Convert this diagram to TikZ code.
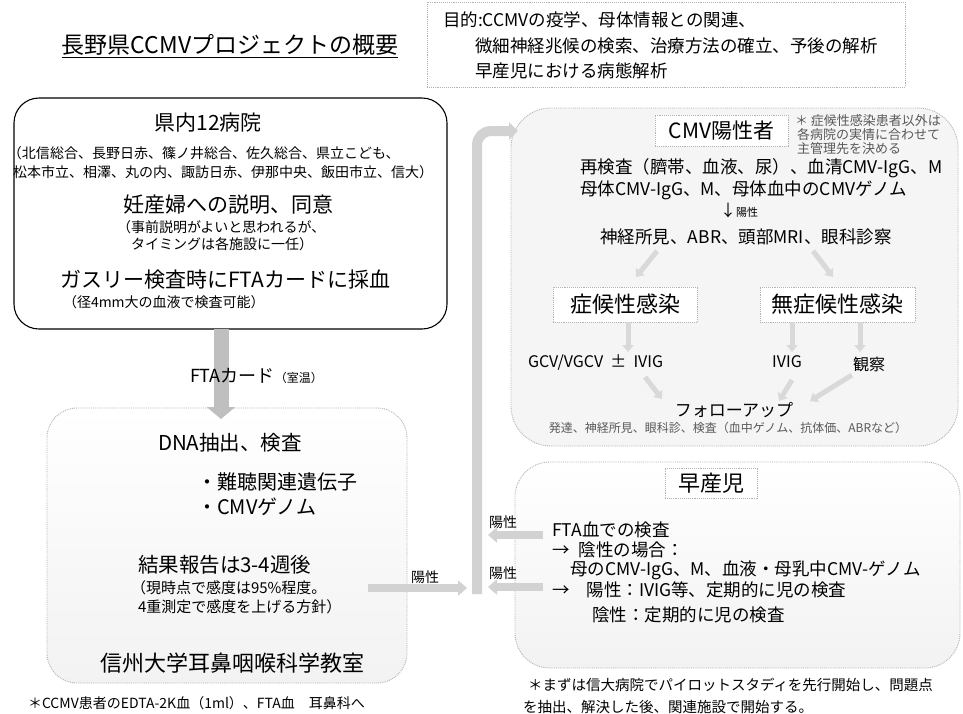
\documentclass[tikz,border=0pt]{standalone}
\usepackage{fontspec}
\setmainfont{Noto Sans CJK JP}
\usetikzlibrary{arrows.meta}
\begin{document}
\begin{tikzpicture}[x=1pt,y=-1pt,
  every node/.style={inner sep=0pt,outer sep=0pt},
  txt/.style={font=\fontsize{#1}{#1}\selectfont},
  bigbox/.style={draw=gray!60,densely dotted,line width=0.9pt,rounded corners=#1},
  inbox/.style={draw=gray!60,densely dotted,line width=0.9pt,fill=white},
  bigdown/.style={draw=gray!50,line width=15pt,-{Triangle[length=12pt,width=28pt]}},
  harrow/.style={draw=gray!35,line width=8pt,-{Triangle[length=9pt,width=15pt]}},
  smallarr/.style={draw=gray!30,line width=5pt,-{Triangle[length=7pt,width=11pt]}},
  bar/.style={draw=gray!35,line width=10pt,rounded corners=14pt,-{Triangle[length=9pt,width=17pt]}}]
\useasboundingbox (0,0) rectangle (963,713);
\fill[white] (0,0) rectangle (963,713);

% title
\node[txt=23] (title) at (230,45) {長野県CCMVプロジェクトの概要};
\draw[line width=1pt] ([yshift=-4pt]title.base west) -- ([yshift=-4pt]title.base east);

% goal box
\node[draw=gray!60,densely dotted,line width=0.9pt,minimum width=478pt,minimum height=85pt] (goal) at (666,44.5) {};
\node[txt=17.5,anchor=west] (g1) at (443,20) {目的:CCMVの疫学、母体情報との関連、};
\node[txt=17.5,anchor=west] (g2) at (475,46) {微細神経兆候の検索、治療方法の確立、予後の解析};
\node[txt=17.5,anchor=west] (g3) at (475,71) {早産児における病態解析};

% big boxes
\node[draw=black,line width=1.1pt,rounded corners=25pt,fill=white,minimum width=433pt,minimum height=231pt] (box1) at (230.5,213.5) {};
\node[bigbox=30pt,top color=white,bottom color=gray!10,minimum width=360pt,minimum height=275pt] (box2) at (227,545.5) {};
\node[bigbox=40pt,fill=gray!8,minimum width=447pt,minimum height=338pt] (cmv) at (734.5,277) {};
\node[bigbox=35pt,top color=white,bottom color=gray!10,minimum width=445pt,minimum height=206pt] (pre) at (737.5,565) {};

% connectors
\coordinate (d1) at (221,329);
\coordinate (d2) at (221,419);
\draw[bigdown] (d1) -- (d2);
\coordinate (h1) at (368,588);
\coordinate (h2) at (467,588);
\draw[harrow] (h1) -- (h2);
\coordinate (barbot) at (477,594);
\coordinate (barturn) at (477,131);
\coordinate (cmvin) at (518,131);
\draw[bar] (barbot) -- (barturn) -- (cmvin);
\coordinate (pa1) at (543,535);
\coordinate (pb1) at (488,535);
\coordinate (pa2) at (543,587);
\coordinate (pb2) at (488,587);
\draw[harrow] (pa1) -- (pb1);
\draw[harrow] (pa2) -- (pb2);

% box1 text
\node[txt=21] (b1a) at (208,123) {県内12病院};
\node[txt=14,anchor=west] (b1b) at (8,153) {（北信総合、長野日赤、篠ノ井総合、佐久総合、県立こども、};
\node[txt=14,anchor=west] (b1c) at (13,172) {松本市立、相澤、丸の内、諏訪日赤、伊那中央、飯田市立、信大）};
\node[txt=21] (b1d) at (228,205) {妊産婦への説明、同意};
\node[txt=14,anchor=west] (b1e) at (117,227) {（事前説明がよいと思われるが、};
\node[txt=14,anchor=west] (b1f) at (131,244) {タイミングは各施設に一任）};
\node[txt=21] (b1g) at (225,280) {ガスリー検査時にFTAカードに採血};
\node[txt=14,anchor=west] (b1h) at (63,302) {（径4mm大の血液で検査可能）};

\node[txt=18,anchor=west] (fta) at (190,376) {FTAカード{\fontsize{12}{12}\selectfont （室温）}};

% box2 text
\node[txt=20.5] (b2a) at (230,443) {DNA抽出、検査};
\node[txt=20,anchor=west] (b2b) at (197,482) {・難聴関連遺伝子};
\node[txt=20,anchor=west] (b2c) at (197,507) {・CMVゲノム};
\node[txt=20.5,anchor=west] (b2d) at (138,565) {結果報告は3-4週後};
\node[txt=15,anchor=west] (b2e) at (131,588) {（現時点で感度は95\%程度。};
\node[txt=15,anchor=west] (b2f) at (138,607) {4重測定で感度を上げる方針）};
\node[txt=22] (b2g) at (232,663) {信州大学耳鼻咽喉科学教室};
\node[txt=14,anchor=west] (fn1) at (28,703) {＊CCMV患者のEDTA-2K血（1ml）、FTA血　耳鼻科へ};
\node[txt=14] (pos0) at (425,577) {陽性};

% CMV box content
\node[inbox,txt=21,minimum width=133pt,minimum height=31pt] (cmvpos) at (721.5,130.5) {CMV陽性者};
\node[txt=13,anchor=west,text=gray!70!black] (n1) at (795,121) {＊ 症候性感染患者以外は};
\node[txt=13,anchor=west,text=gray!70!black] (n2) at (797,135) {各病院の実情に合わせて};
\node[txt=13,anchor=west,text=gray!70!black] (n3) at (797,149) {主管理先を決める};
\node[txt=17.5,anchor=west] (c1) at (580,168) {再検査（臍帯、血液、尿）、血清CMV-IgG、M};
\node[txt=17.5,anchor=west] (c2) at (580,190) {母体CMV-IgG、M、母体血中のCMVゲノム};
\node[txt=16,anchor=west] (c3) at (720,210) {↓{\fontsize{11}{11}\selectfont 陽性}};
\node[txt=17.5] (c4) at (746,237) {神経所見、ABR、頭部MRI、眼科診察};
\node[inbox,txt=22,minimum width=144pt,minimum height=35pt] (sym) at (625,304.5) {症候性感染};
\node[inbox,txt=22,minimum width=155pt,minimum height=35pt] (asym) at (837.5,304.5) {無症候性感染};
\node[txt=16,anchor=west] (gcv) at (528,362) {GCV/VGCV\ \ ±\ \ IVIG};
\node[txt=16] (ivig) at (787,362) {IVIG};
\node[txt=16] (obs) at (869,364) {観察};
\node[txt=17] (fol) at (734,410) {フォローアップ};
\node[txt=12,text=gray!70!black] (fold) at (728,428) {発達、神経所見、眼科診、検査（血中ゲノム、抗体価、ABRなど）};

\coordinate (da1) at (657,251); \coordinate (db1) at (636,277);
\coordinate (da2) at (813,251); \coordinate (db2) at (833,277);
\draw[smallarr] (da1) -- (db1);
\draw[smallarr] (da2) -- (db2);
\draw[smallarr] (sym.south -| 628,0) -- (628,352);
\draw[smallarr] (asym.south -| 792,0) -- (792,352);
\draw[smallarr] (asym.south -| 860,0) -- (860,352);
\coordinate (fa1) at (645,377); \coordinate (fb1) at (662,399);
\coordinate (fa2) at (792,380); \coordinate (fb2) at (779,401);
\coordinate (fa3) at (852,375); \coordinate (fb3) at (810,401);
\draw[smallarr] (fa1) -- (fb1);
\draw[smallarr] (fa2) -- (fb2);
\draw[smallarr] (fa3) -- (fb3);

% premature box content
\node[inbox,txt=22,minimum width=92pt,minimum height=30pt] (prem) at (711,483) {早産児};
\node[txt=17.5,anchor=west] (p1) at (552,530) {FTA血での検査};
\node[txt=17.5,anchor=west] (p2) at (552,550) {→\hspace{9pt}陰性の場合：};
\node[txt=17.5,anchor=west] (p3) at (570,570) {母のCMV-IgG、M、血液・母乳中CMV-ゲノム};
\node[txt=17.5,anchor=west] (p4) at (552,590) {→\hspace{17pt}陽性：IVIG等、定期的に児の検査};
\node[txt=17.5,anchor=west] (p5) at (592,615) {陰性：定期的に児の検査};
\node[txt=14] (pos1) at (503,522) {陽性};
\node[txt=14] (pos2) at (503,573) {陽性};
\node[txt=14.5,anchor=west] (fn2) at (528,685) {＊まずは信大病院でパイロットスタディを先行開始し、問題点};
\node[txt=14.5,anchor=west] (fn3) at (523,707) {を抽出、解決した後、関連施設で開始する。};
\end{tikzpicture}
\end{document}
